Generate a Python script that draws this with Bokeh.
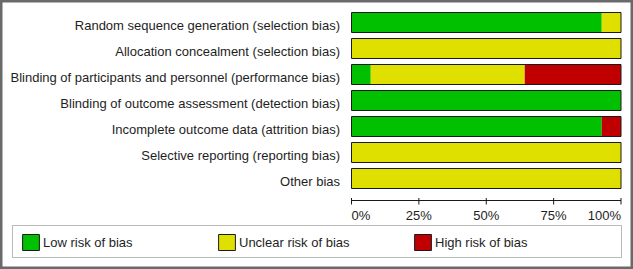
from bokeh.plotting import figure
from bokeh.models import Range1d, ColumnDataSource, Legend, LegendItem, BoxAnnotation
from bokeh.core.properties import value
from bokeh.embed import file_html
from bokeh.resources import INLINE

# ---- data ----
domains = [
    "Random sequence generation (selection bias)",
    "Allocation concealment (selection bias)",
    "Blinding of participants and personnel (performance bias)",
    "Blinding of outcome assessment (detection bias)",
    "Incomplete outcome data (attrition bias)",
    "Selective reporting (reporting bias)",
    "Other bias",
]
low = [92.86, 0.0, 7.14, 100.0, 92.86, 0.0, 0.0]
unclear = [7.14, 100.0, 57.14, 0.0, 0.0, 100.0, 100.0]
high = [0.0, 0.0, 35.72, 0.0, 7.14, 0.0, 0.0]
tick_values = [0, 25, 50, 75, 100]
tick_labels = ["0%", "25%", "50%", "75%", "100%"]
tick_align = ["left", "center", "center", "center", "right"]
legend_labels = ["Low risk of bias", "Unclear risk of bias", "High risk of bias"]
colors = ["#00C000", "#E0E000", "#C00000"]

# ---- layout (pixels) ----
W, H = 633, 269
PX0, PX100 = 351.0, 620.5
SX = (PX100 - PX0) / 100.0
PITCH, ROW0 = 26.0, 22.0
FONT_NAME = "Liberation Sans"
FONT = value(FONT_NAME)
TXT = "#1e1e1e"

def xd(px):
    return (px - PX0) / SX

def yd(py):
    return (py - ROW0) / PITCH

p = figure(width=W, height=H, output_backend="svg", toolbar_location=None,
           x_range=Range1d(xd(0), xd(W)), y_range=Range1d(yd(H), yd(0)),
           x_axis_location=None, y_axis_location=None, min_border=0,
           background_fill_color="white", border_fill_color="white")
p.xgrid.visible = False
p.ygrid.visible = False
p.outline_line_color = "#6a6a6a"
p.outline_line_width = 4

rows = list(range(len(domains)))
l0 = [0.0] * len(rows)
l1 = [a for a in low]
l2 = [a + b for a, b in zip(low, unclear)]
l3 = [a + b + c for a, b, c in zip(low, unclear, high)]
bh = 20.0 / PITCH

renderers = []
for left, right, c in ((l0, l1, colors[0]), (l1, l2, colors[1]), (l2, l3, colors[2])):
    r = p.hbar(y=rows, left=left, right=right, height=bh, fill_color=c, line_color=None)
    renderers.append(r)
outline = p.hbar(y=rows, left=l0, right=l3, height=bh, fill_color=None, line_color="#1a1a1a", line_width=1)

# category labels
p.text(x=l0, y=rows, text=domains, text_align="right", text_baseline="middle",
       x_offset=-11.5, y_offset=3, text_font=FONT, text_font_size="13px", text_color=TXT)

# x axis
ay = yd(200)
p.segment(x0=[tick_values[0]], x1=[tick_values[-1]], y0=[ay], y1=[ay], line_color="#1a1a1a", line_width=1)
p.segment(x0=tick_values, x1=tick_values, y0=[yd(197.5)] * len(tick_values), y1=[yd(204)] * len(tick_values),
          line_color="#1a1a1a", line_width=1)
tsrc = ColumnDataSource(dict(x=tick_values, y=[ay] * len(tick_values), t=tick_labels, a=tick_align))
p.text(x="x", y="y", text="t", text_align="a", source=tsrc, text_baseline="top", y_offset=7,
       text_font=FONT, text_font_size="13px", text_color=TXT)

# legend box
p.add_layout(BoxAnnotation(left=xd(12), right=xd(621), top=yd(225), bottom=yd(257),
                           fill_color=None, fill_alpha=0, line_color="#1a1a1a", line_width=1))

legend = Legend(items=[LegendItem(label=lab, renderers=[r, outline]) for lab, r in zip(legend_labels, renderers)],
                orientation="horizontal", location=(20, 17), margin=0, padding=8, spacing=0,
                glyph_width=21, glyph_height=20, label_standoff=2, label_width=173,
                label_text_font=FONT_NAME, label_text_font_size="13px", label_text_color=TXT,
                background_fill_alpha=0, border_line_color=None)
p.add_layout(legend)

open("out.html", "w").write(file_html(p, INLINE))
